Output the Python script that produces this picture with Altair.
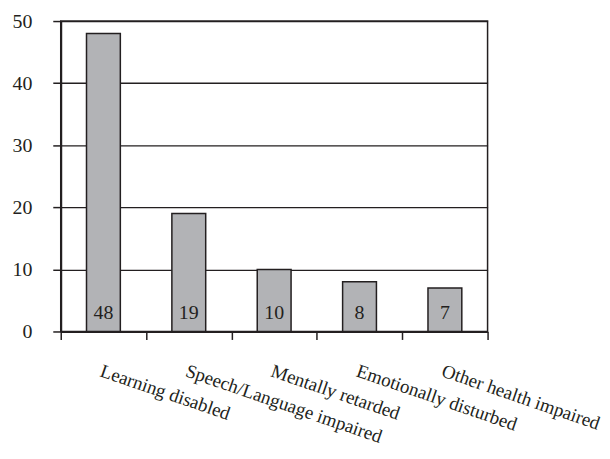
import altair as alt
import pandas as pd

categories = ["Learning disabled", "Speech/Language impaired", "Mentally retarded",
              "Emotionally disturbed", "Other health impaired"]
values = [48, 19, 10, 8, 7]

df = pd.DataFrame({"category": categories, "value": values})

INK = "#231f20"
FONT = "Liberation Serif"

x = alt.X("category:N", sort=categories, title=None,
          scale=alt.Scale(paddingInner=0, paddingOuter=0),
          axis=alt.Axis(tickBand="extent", labelAngle=19, labelAlign="left",
                        labelBaseline="top", labelPadding=22, tickSize=8,
                        tickColor=INK, tickWidth=1.5, domainColor=INK,
                        domainWidth=2, labelFont=FONT, labelFontSize=19,
                        labelColor=INK, labelOverlap=False, labelLimit=0))

bars = alt.Chart(df).mark_bar(size=34, color="#b2b3b6", stroke=INK,
                              strokeWidth=1.5).encode(
    x=x,
    y=alt.Y("value:Q", title=None,
            scale=alt.Scale(domain=[0, 50], nice=False),
            axis=alt.Axis(values=[0, 10, 20, 30, 40, 50], tickSize=8,
                          tickColor=INK, tickWidth=1.5, domainColor=INK,
                          domainWidth=2, grid=True, gridColor=INK,
                          gridWidth=1.3, gridOpacity=1, labelFont=FONT,
                          labelFontSize=20, labelColor=INK, labelPadding=21)),
)

labels = alt.Chart(df).mark_text(font=FONT, fontSize=20, color=INK,
                                 baseline="bottom", dy=-9).encode(
    x=alt.X("category:N", sort=categories),
    y=alt.datum(0),
    text="value:Q",
)

chart = alt.layer(bars, labels).properties(
    width=429, height=312,
    padding={"left": 53, "top": 12, "right": 115, "bottom": 115},
    autosize="none",
).configure_view(stroke=INK, strokeWidth=1.5)

chart.save("out.html", embed_options={"renderer": "svg", "actions": False})
